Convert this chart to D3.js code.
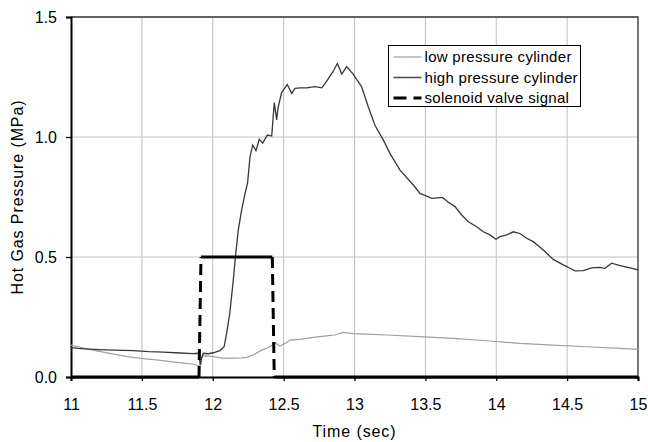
<!DOCTYPE html>
<html lang="en">
<head>
    <meta charset="UTF-8">
    <script src="https://cdn.jsdelivr.net/npm/d3@7"></script>
    <title>Hot Gas Pressure</title>
    <style>
        body { margin: 0; background: white; }
        text { font-family: "Liberation Sans", Arial, sans-serif; fill: black; }
    </style>
</head>
<body>
    <div class="fig"></div>

    <script>
        // time (sec) / pressure (MPa)
        const lowTime = [11.00, 11.05, 11.10, 11.20, 11.30, 11.40, 11.49, 11.60, 11.70, 11.80, 11.863, 11.90, 11.915, 11.925, 11.95,
            12.004, 12.04, 12.075, 12.145, 12.20, 12.24, 12.286, 12.345, 12.404, 12.43, 12.44, 12.474, 12.51, 12.545, 12.616,
            12.71, 12.80, 12.86, 12.92, 12.99, 13.086, 13.227, 13.46, 13.697, 13.93, 14.167, 14.40, 14.638, 14.873, 15.00];
        const lowPressure = [0.133, 0.126, 0.118, 0.107, 0.095, 0.085, 0.078, 0.071, 0.064, 0.058, 0.053, 0.046, 0.050, 0.087, 0.088,
            0.085, 0.082, 0.078, 0.079, 0.080, 0.082, 0.092, 0.112, 0.126, 0.138, 0.143, 0.129, 0.140, 0.154, 0.157,
            0.165, 0.171, 0.175, 0.186, 0.181, 0.179, 0.175, 0.168, 0.161, 0.151, 0.140, 0.133, 0.126, 0.119, 0.115];

        const highTime = [11.00, 11.05, 11.10, 11.20, 11.30, 11.44, 11.55, 11.65, 11.77, 11.86, 11.898, 11.905, 11.912, 11.92, 11.933,
            11.969, 12.004, 12.05, 12.08, 12.098, 12.12, 12.145, 12.16, 12.18, 12.204, 12.228, 12.246, 12.263, 12.282, 12.305,
            12.328, 12.352, 12.385, 12.416, 12.434, 12.451, 12.46, 12.486, 12.526, 12.557, 12.58, 12.616, 12.663, 12.72, 12.77,
            12.80, 12.846, 12.879, 12.91, 12.945, 12.99, 13.05, 13.097, 13.145, 13.203, 13.25, 13.321, 13.415, 13.462, 13.509,
            13.545, 13.603, 13.62, 13.662, 13.709, 13.756, 13.803, 13.862, 13.909, 13.956, 13.998, 14.026, 14.074, 14.12, 14.167,
            14.215, 14.261, 14.332, 14.402, 14.473, 14.52, 14.556, 14.614, 14.673, 14.73, 14.767, 14.814, 14.873, 14.944, 15.00];
        const highPressure = [0.122, 0.119, 0.117, 0.114, 0.112, 0.110, 0.106, 0.104, 0.100, 0.097, 0.099, 0.080, 0.050, 0.075, 0.099,
            0.097, 0.101, 0.110, 0.126, 0.182, 0.265, 0.404, 0.501, 0.612, 0.696, 0.765, 0.810, 0.918, 0.967, 0.943,
            0.990, 0.974, 1.008, 1.004, 1.143, 1.071, 1.120, 1.185, 1.219, 1.182, 1.203, 1.205, 1.205, 1.210, 1.205,
            1.230, 1.270, 1.306, 1.262, 1.293, 1.262, 1.210, 1.126, 1.048, 0.988, 0.932, 0.862, 0.800, 0.765, 0.754,
            0.744, 0.747, 0.748, 0.728, 0.710, 0.675, 0.647, 0.626, 0.605, 0.592, 0.574, 0.585, 0.592, 0.605, 0.598,
            0.578, 0.564, 0.529, 0.490, 0.467, 0.453, 0.442, 0.443, 0.455, 0.457, 0.453, 0.474, 0.464, 0.455, 0.446];

        const valveTime = [11.00, 11.903, 11.917, 12.42, 12.434, 15.00];
        const valveSignal = [0, 0, 0.5, 0.5, 0, 0];

        const xTicks = [11, 11.5, 12, 12.5, 13, 13.5, 14, 14.5, 15];
        const yTicks = [0, 0.5, 1.0, 1.5];
        const seriesNames = ["low pressure cylinder", "high pressure cylinder", "solenoid valve signal"];

        const width = 648, height = 442;
        const margin = { top: 17, right: 10, bottom: 65, left: 71 };
        const plotW = width - margin.left - margin.right;
        const plotH = height - margin.top - margin.bottom;

        const svg = d3.select(".fig").append("svg")
            .attr("width", width)
            .attr("height", height);

        const g = svg.append("g").attr("transform", `translate(${margin.left},${margin.top})`);

        const x = d3.scaleLinear().domain([11, 15]).range([0, plotW]);
        const y = d3.scaleLinear().domain([0, 1.5]).range([plotH, 0]);

        // gridlines
        g.selectAll(".vgrid").data(xTicks.slice(1, -1)).enter().append("line")
            .attr("x1", d => x(d)).attr("x2", d => x(d))
            .attr("y1", 0).attr("y2", plotH)
            .attr("stroke", "#c0c0c0").attr("stroke-width", 1);
        g.selectAll(".hgrid").data(yTicks.slice(1, -1)).enter().append("line")
            .attr("x1", 0).attr("x2", plotW)
            .attr("y1", d => y(d)).attr("y2", d => y(d))
            .attr("stroke", "#c0c0c0").attr("stroke-width", 1);

        // frame (top/right)
        g.append("path")
            .attr("d", `M0,0H${plotW}V${plotH}`)
            .attr("fill", "none").attr("stroke", "#303030").attr("stroke-width", 1.3);

        // axes
        const yAxis = g.append("g")
            .call(d3.axisLeft(y).tickValues(yTicks).tickFormat(d3.format(".1f")).tickSize(5).tickPadding(9));
        const xAxis = g.append("g").attr("transform", `translate(0,${plotH})`)
            .call(d3.axisBottom(x).tickValues(xTicks).tickFormat(d3.format("")).tickSize(4).tickPadding(6));

        [yAxis, xAxis].forEach(a => {
            a.select(".domain").attr("stroke", "black").attr("stroke-width", 2);
            a.selectAll(".tick line").attr("stroke", "black").attr("stroke-width", 1.3);
            a.selectAll(".tick text").attr("font-size", 16).attr("fill", "black")
                .style("font-family", "'Liberation Sans', Arial, sans-serif");
        });
        xAxis.selectAll(".tick text").attr("y", 28.5).attr("dy", "0.3em");

        const line = d3.line().x(d => x(d[0])).y(d => y(d[1]));

        const lowData = lowTime.map((t, i) => [t, lowPressure[i]]);
        const highData = highTime.map((t, i) => [t, highPressure[i]]);
        const valveData = valveTime.map((t, i) => [t, valveSignal[i]]);

        g.append("path").datum(lowData)
            .attr("d", line).attr("fill", "none")
            .attr("stroke", "#a0a0a0").attr("stroke-width", 1.2);

        g.append("path").datum(highData)
            .attr("d", line).attr("fill", "none")
            .attr("stroke", "#383838").attr("stroke-width", 1.3);

        // valve signal: each segment on its own, dashes show only on the jumps
        const valveSegs = d3.pairs(valveData);
        g.selectAll(".valve").data(valveSegs).enter().append("line")
            .attr("x1", d => x(d[0][0])).attr("y1", d => y(d[0][1]))
            .attr("x2", d => x(d[1][0])).attr("y2", d => y(d[1][1]))
            .attr("stroke", "black").attr("stroke-width", 3)
            .attr("stroke-linecap", "butt")
            .attr("stroke-dasharray", d => d[0][1] === d[1][1] ? null : "11,6");

        // axis titles
        svg.append("text")
            .attr("x", margin.left + plotW / 2).attr("y", 437)
            .attr("text-anchor", "middle").attr("font-size", 16)
            .attr("letter-spacing", 0.9)
            .text("Time (sec)");
        svg.append("text")
            .attr("transform", `translate(23,${margin.top + plotH / 2}) rotate(-90)`)
            .attr("text-anchor", "middle").attr("font-size", 16)
            .attr("letter-spacing", 0.9)
            .text("Hot Gas Pressure (MPa)");

        // legend
        const legend = svg.append("g").attr("transform", "translate(388.5,45.5)");
        legend.append("rect")
            .attr("width", 192).attr("height", 61)
            .attr("fill", "white").attr("stroke", "black").attr("stroke-width", 1);
        const legendStyle = [
            { stroke: "#a0a0a0", w: 1.2, dash: null },
            { stroke: "#505050", w: 1.6, dash: null },
            { stroke: "black", w: 3, dash: "13,7" }
        ];
        const rowY = [11.5, 32, 52.5];
        seriesNames.forEach((name, i) => {
            legend.append("line")
                .attr("x1", 5).attr("x2", 33)
                .attr("y1", rowY[i]).attr("y2", rowY[i])
                .attr("stroke", legendStyle[i].stroke)
                .attr("stroke-width", legendStyle[i].w)
                .attr("stroke-dasharray", legendStyle[i].dash);
            legend.append("text")
                .attr("x", 36).attr("y", rowY[i] + 5)
                .attr("font-size", 15).attr("letter-spacing", 0.3)
                .text(name);
        });
    </script>
</body>
</html>
